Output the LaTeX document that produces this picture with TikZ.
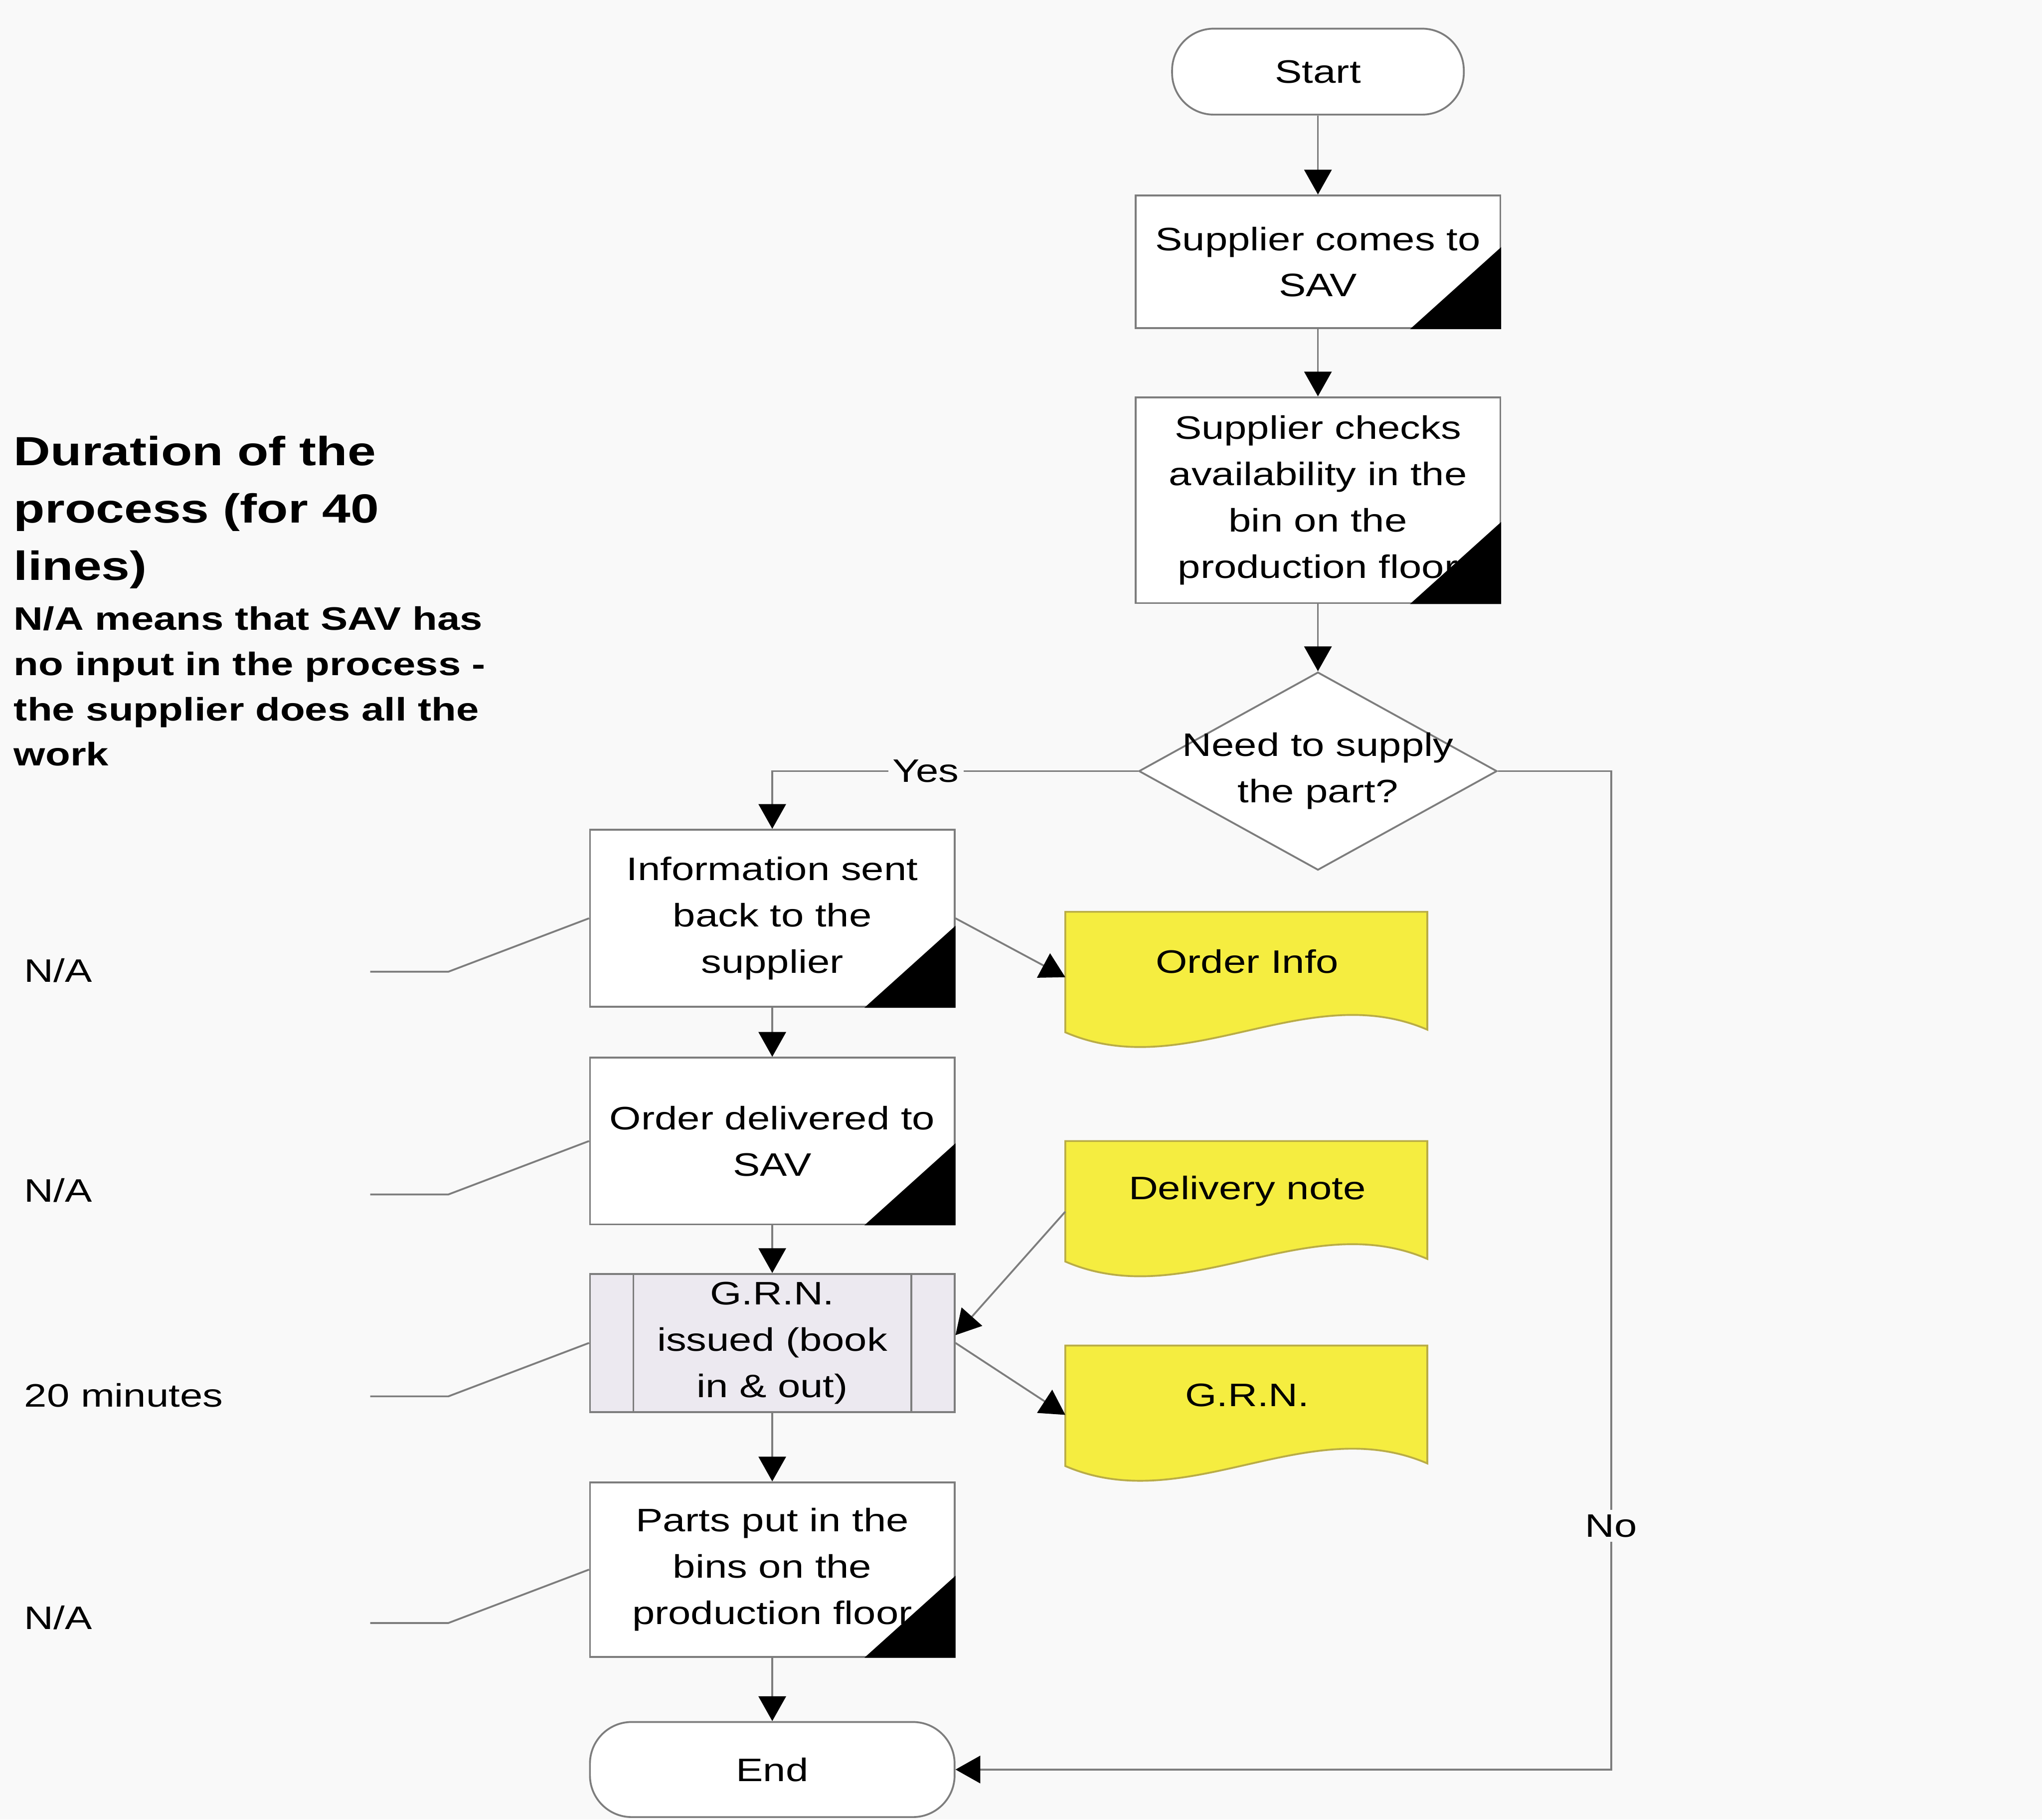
\documentclass[tikz,border=0pt]{standalone}
\usepackage{fontspec}
\newfontfamily\chartfont[FakeStretch=1.25]{Liberation Sans}
\usetikzlibrary{shapes.geometric,arrows.meta}
\pgfdeclarelayer{background}
\pgfsetlayers{background,main}
\definecolor{paper}{RGB}{249,249,249}
\definecolor{docyellow}{RGB}{245,237,64}
\definecolor{docedge}{RGB}{185,172,70}
\definecolor{grnfill}{RGB}{236,233,240}
\definecolor{edgegray}{RGB}{125,125,125}

\begin{document}
\begin{tikzpicture}[
	font=\chartfont\fontsize{7.1}{10.1}\selectfont,
	every node/.style={inner sep=0pt},
	process/.style={rectangle,draw=edgegray,line width=0.4pt,fill=white,minimum width=2.8cm,align=center},
	terminal/.style={process,rounded corners=3.2mm},
	subproc/.style={process,fill=grnfill},
	decision/.style={diamond,draw=edgegray,line width=0.4pt,fill=white,minimum width=2.75cm,minimum height=1.52cm},
	docnode/.style={anchor=north west,minimum width=2.78cm,minimum height=0.75cm},
	flow/.style={draw=edgegray,line width=0.4pt,-{Triangle[length=1.9mm,width=2.1mm,color=black]}},
	leader/.style={draw=edgegray,line width=0.4pt},
	lbl/.style={fill=paper,inner sep=1pt},
	note/.style={anchor=west}]

  \useasboundingbox (0,0) rectangle (15.68,-13.97);

  % main column
  \node [terminal, minimum width=2.24cm, minimum height=0.66cm] (start) at (10.12,-0.55) {Start};
  \node [process, node distance=1.46cm, below of=start, minimum height=1.02cm] (comes) {Supplier comes to\\SAV};
  \node [process, node distance=1.83cm, below of=comes, minimum height=1.58cm] (checks) {Supplier checks\\availability in the\\bin on the\\production floor};
  \node [decision, node distance=2.08cm, below of=checks] (need) {};
  \node [align=center] (needtxt) at (need) {Need to supply\\the part?};

  % yes branch
  \node [process, minimum height=1.36cm] (info) at (5.93,-7.05) {Information sent\\back to the\\supplier};
  \node [process, node distance=1.71cm, below of=info, minimum height=1.28cm] (deliv) {Order delivered to\\SAV};
  \node [subproc, node distance=1.55cm, below of=deliv, minimum height=1.06cm] (grn) {G.R.N.\\issued (book\\in \& out)};
  \node [process, node distance=1.74cm, below of=grn, minimum height=1.34cm] (parts) {Parts put in the\\bins on the\\production floor};
  \node [terminal, node distance=1.535cm, below of=parts, minimum height=0.73cm] (end) {End};

  % documents
  \node [docnode] (oinfo) at (8.18,-7.00) {Order Info};
  \node [docnode] (dnote) at (8.18,-8.76) {Delivery note};
  \node [docnode] (grndoc) at (8.18,-10.33) {G.R.N.};

  % durations
  \node [anchor=north west, align=left, font=\chartfont\bfseries\fontsize{8.9}{12.5}\selectfont] (title) at (0.10,-3.34) {Duration of the\\process (for 40\\lines)};
  \node [anchor=north west, align=left, font=\chartfont\bfseries\fontsize{7.1}{9.87}\selectfont] (legend) at (0.10,-4.65) {N/A means that SAV has\\no input in the process -\\the supplier does all the\\work};
  \node [note] (dur1) at (0.18,-7.45) {N/A};
  \node [note] (dur2) at (0.18,-9.14) {N/A};
  \node [note] (dur3) at (0.18,-10.71) {20 minutes};
  \node [note] (dur4) at (0.18,-12.42) {N/A};

  \begin{pgfonlayer}{background}
    \fill[paper] (0,0) rectangle (15.68,-13.97);
    \foreach \d in {oinfo,dnote,grndoc}{
      \begin{scope}[shift={(\d.north west)}]
        \filldraw[fill=docyellow,draw=docedge,line width=0.4pt] (0,0) -- (2.78,0) -- (2.78,-0.905)
          .. controls (1.853,-0.505) and (0.927,-1.325) .. (0,-0.925) -- cycle;
      \end{scope}
    }
  \end{pgfonlayer}

  \foreach \b in {comes,checks,info,deliv,parts}
    \fill (\b.south east) -- ++(-0.70,0) -- ++(0.70,0.63) -- cycle;
  \draw[edgegray,line width=0.4pt] ([xshift=3.4mm]grn.north west) -- ([xshift=3.4mm]grn.south west);
  \draw[edgegray,line width=0.4pt] ([xshift=-3.4mm]grn.north east) -- ([xshift=-3.4mm]grn.south east);

  \draw[flow] (start) -- (comes);
  \draw[flow] (comes) -- (checks);
  \draw[flow] (checks) -- (need);
  \draw[flow] (need.west) -| node[lbl,pos=0.29] {Yes} (info.north);
  \draw[flow] (need.east) -- ++(0.87,0) |- node[lbl,pos=0.378] {No} (end.east);
  \draw[flow] (info) -- (deliv);
  \draw[flow] (deliv) -- (grn);
  \draw[flow] (grn) -- (parts);
  \draw[flow] (parts) -- (end);

  \draw[flow] (info.east) -- ([yshift=-1.2mm]oinfo.west);
  \draw[flow] ([yshift=-1.6mm]dnote.west) -- ([yshift=0.6mm]grn.east);
  \draw[flow] (grn.east) -- ([yshift=-1.5mm]grndoc.west);

  \foreach \b in {info,deliv,grn,parts}
    \draw[leader] (\b.west) -- ++(-1.08,-0.41) -- ++(-0.60,0);

\end{tikzpicture}
\end{document}
